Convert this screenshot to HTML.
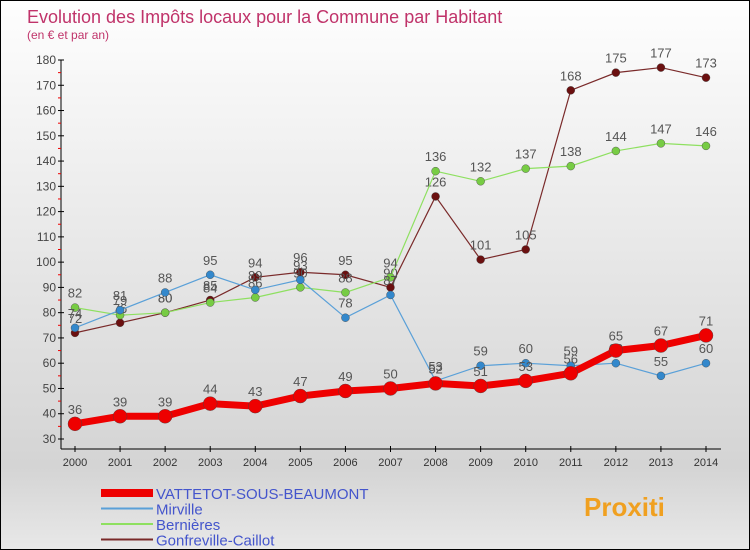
<!DOCTYPE html>
<html><head><meta charset="utf-8"><style>
body{margin:0}
#c{position:relative;width:748px;height:548px;border:1px solid #000;background:linear-gradient(#fefefe,#d4d4d4 85%,#e8e8e8);font-family:"Liberation Sans",sans-serif;overflow:hidden}
</style></head><body>
<div id="c">
<svg id="s" width="748" height="548"></svg>
</div>
<script>
const years=[2000,2001,2002,2003,2004,2005,2006,2007,2008,2009,2010,2011,2012,2013,2014];
const yTicks=[30,40,50,60,70,80,90,100,110,120,130,140,150,160,170,180];
const vattetot=[36,39,39,44,43,47,49,50,52,51,53,56,65,67,71];
const mirville=[74,81,88,95,89,93,78,87,53,59,60,59,60,55,60];
const bernieres=[82,79,80,84,86,90,88,94,136,132,137,138,144,147,146];
const gonfreville=[72,76,80,85,94,96,95,90,126,101,105,168,175,177,173];
const NS='http://www.w3.org/2000/svg';
const svg=document.getElementById('s');
const X=i=>74+i*(705-74)/14;
const Y=v=>438-(v-30)*(438-59)/150;
function mk(t,a,p){const e=document.createElementNS(NS,t);for(const k in a)e.setAttribute(k,a[k]);(p||svg).appendChild(e);return e;}
function tx(x,y,s,a){const e=mk('text',Object.assign({x:x,y:y},a));e.textContent=s;return e;}
let t=tx(26,22,'Evolution des Impôts locaux pour la Commune par Habitant',{fill:'#c0336a','font-size':18});

t=tx(26,38,'(en € et par an)',{fill:'#c0336a','font-size':12});

let ax=mk('line',{x1:60,y1:59,x2:60,y2:448,stroke:'#000'});

yTicks.forEach(v=>{mk('line',{x1:57,x2:63,y1:Y(v),y2:Y(v),stroke:'#000'});
 if(v<180)mk('line',{x1:57,x2:60,y1:Y(v+5),y2:Y(v+5),stroke:'#e00'});
 let l=tx(55,Y(v)+4,v,{'text-anchor':'end','font-size':12,fill:'#444'});
 });
let xa=mk('line',{x1:60,y1:448,x2:720,y2:448,stroke:'#000'});

years.forEach((y,i)=>{mk('line',{x1:X(i),x2:X(i),y1:445,y2:451,stroke:'#000'});
 let l=tx(X(i),465,y,{'text-anchor':'middle','font-size':11,fill:'#333'});
 });
function series(d,col,dot,w,r,name){
 const g=mk('g',{});
 mk('polyline',{points:d.map((v,i)=>X(i)+','+Y(v)).join(' '),fill:'none',stroke:col,'stroke-width':w},g);
 d.forEach((v,i)=>{const c=mk('circle',{cx:X(i),cy:Y(v),r:r,fill:dot,stroke:'#444','stroke-width':0.4},g);
  
  const l=tx(X(i),Y(v)-10,v,{'text-anchor':'middle','font-size':13,fill:'#555'},g);
  });
}
series(gonfreville,'#7a2a2a','#6b1010',1.2,4,'gonfreville-series');
series(bernieres,'#8ee060','#77cc44',1.2,4,'bernieres-series');
series(mirville,'#5aa0d8','#3388cc',1.2,4,'mirville-series');
series(vattetot,'#ee0000','#ee0000',7,7,'vattetot-series');
const leg=[['VATTETOT-SOUS-BEAUMONT','#ee0000',8],['Mirville','#5aa0d8',2],['Bernières','#8ee060',2],['Gonfreville-Caillot','#7a2a2a',2]];
leg.forEach((l,i)=>{const y=492+i*15.5;const g=mk('g',{});
 
 mk('line',{x1:100,x2:152,y1:y,y2:y,stroke:l[1],'stroke-width':l[2]},g);
 tx(155,y+6,l[0],{'font-size':15,fill:'#4455cc'},g);});
const lg=tx(583,515,'Proxiti',{'font-size':26,'font-weight':'bold',fill:'#f0a020'});

</script>
</body></html>
